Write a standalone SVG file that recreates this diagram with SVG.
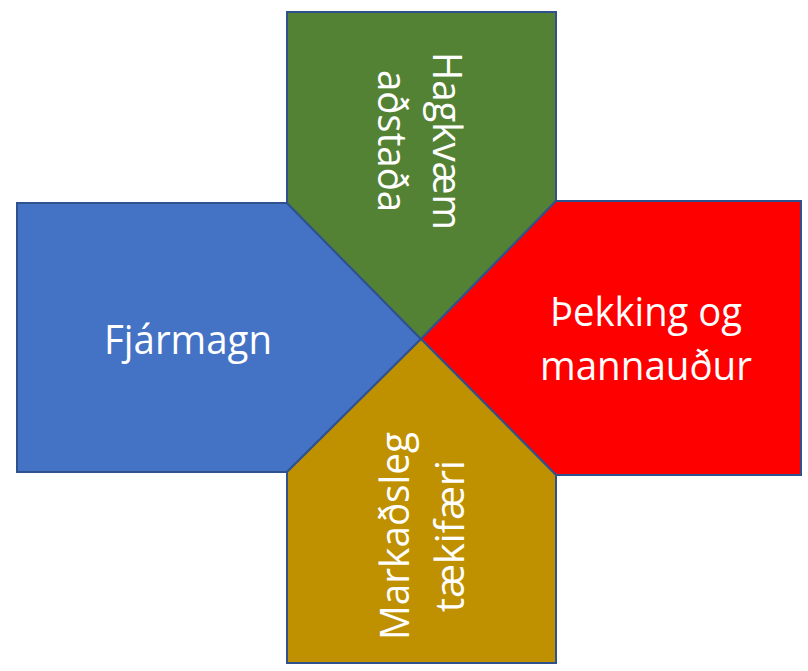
<svg xmlns="http://www.w3.org/2000/svg" width="808" height="671" viewBox="0 0 808 671">
<style>
.shape{stroke:#2F528F;stroke-width:2;stroke-linejoin:miter}
.lbl{font-family:"Open Sans","Noto Sans","Liberation Sans",sans-serif;font-size:40px;fill:#FFFFFF;text-anchor:middle}
</style>
<rect width="808" height="671" fill="#FFFFFF"/>
<g id="connectors"></g>
<g id="node-fjarmagn">
<polygon class="shape" fill="#4472C4" points="17,203 287,203 421,339 287,472 17,472"/>
<text class="lbl" x="188" y="354" textLength="168" lengthAdjust="spacingAndGlyphs">Fjármagn</text>
</g>
<g id="node-hagkvaem">
<polygon class="shape" fill="#548235" points="287,12 556,12 556,201 421,339 287,203"/>
<text class="lbl" transform="translate(433,141) rotate(90)" textLength="178" lengthAdjust="spacingAndGlyphs">Hagkvæm</text>
<text class="lbl" transform="translate(378,141) rotate(90)" textLength="142" lengthAdjust="spacingAndGlyphs">aðstaða</text>
</g>
<g id="node-thekking">
<polygon class="shape" fill="#FF0000" points="556,201 801,201 801,475 556,475 421,339"/>
<text class="lbl" x="646" y="326" textLength="192" lengthAdjust="spacingAndGlyphs">Þekking og</text>
<text class="lbl" x="646" y="380" textLength="212" lengthAdjust="spacingAndGlyphs">mannauður</text>
</g>
<g id="node-markadsleg">
<polygon class="shape" fill="#BF9000" points="287,472 421,339 556,475 556,663 287,663"/>
<text class="lbl" transform="translate(409,536) rotate(-90)" textLength="208" lengthAdjust="spacingAndGlyphs">Markaðsleg</text>
<text class="lbl" transform="translate(464,536) rotate(-90)" textLength="152" lengthAdjust="spacingAndGlyphs">tækifæri</text>
</g>
</svg>
